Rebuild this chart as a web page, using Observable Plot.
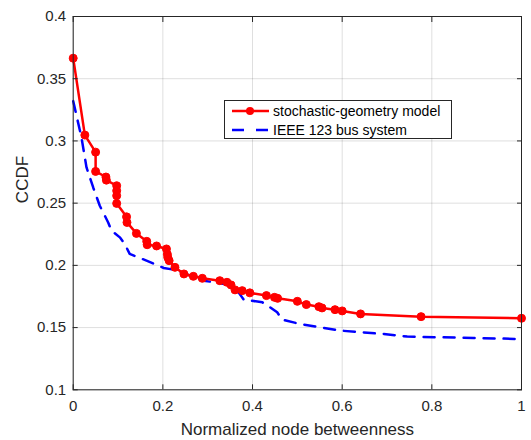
<!DOCTYPE html>
<html><head><meta charset="utf-8">
<script src="https://cdn.jsdelivr.net/npm/d3@7"></script>
<script src="https://cdn.jsdelivr.net/npm/@observablehq/plot@0.6"></script>
<style>
body{margin:0;background:#fff;}
#wrap{position:relative;width:531px;height:440px;font-family:"Liberation Sans",Arial,Helvetica,sans-serif;}
#legend{position:absolute;left:224px;top:100px;}
</style></head><body><div id="wrap"></div>
<script>
// stochastic-geometry model (red, markers)
const sgX = [0, 0.026, 0.050, 0.050, 0.073, 0.074, 0.097, 0.097, 0.097, 0.097, 0.119, 0.120, 0.141, 0.164, 0.165, 0.186, 0.208, 0.210, 0.211, 0.214, 0.227, 0.247, 0.268, 0.288, 0.327, 0.343, 0.352, 0.361, 0.377, 0.394, 0.431, 0.449, 0.456, 0.500, 0.520, 0.548, 0.555, 0.584, 0.600, 0.641, 0.776, 1.0];
const sgY = [0.3665, 0.3047, 0.291, 0.2755, 0.271, 0.2685, 0.264, 0.260, 0.256, 0.2498, 0.239, 0.2345, 0.2257, 0.2193, 0.2166, 0.2156, 0.2132, 0.209, 0.2064, 0.2038, 0.1984, 0.1931, 0.1912, 0.1896, 0.1877, 0.1864, 0.1843, 0.1803, 0.1797, 0.1779, 0.1757, 0.1743, 0.1735, 0.1711, 0.1685, 0.1668, 0.1658, 0.1644, 0.1634, 0.161, 0.1588, 0.1575];
// IEEE 123 bus system (blue, dashed)
const ieeeX = [0, 0.0185, 0.0297, 0.0446, 0.0593, 0.0669, 0.078, 0.0854, 0.104, 0.115, 0.126, 0.1635, 0.202, 0.228, 0.291, 0.329, 0.351, 0.366, 0.381, 0.396, 0.422, 0.436, 0.455, 0.466, 0.507, 0.596, 0.641, 0.693, 0.745, 0.819, 0.893, 0.987, 1.0];
const ieeeY = [0.332, 0.3027, 0.2787, 0.2626, 0.2479, 0.2425, 0.2345, 0.2279, 0.2225, 0.2172, 0.2092, 0.2038, 0.1979, 0.1963, 0.1877, 0.1856, 0.1837, 0.1797, 0.1722, 0.1717, 0.1703, 0.1671, 0.1623, 0.1564, 0.1528, 0.1476, 0.1462, 0.1449, 0.1428, 0.1422, 0.1417, 0.1409, 0.1408];
const xTicks = [0, 0.2, 0.4, 0.6, 0.8, 1];
const yTicks = [0.1, 0.15, 0.2, 0.25, 0.3, 0.35, 0.4];
const seriesNames = ["stochastic-geometry model", "IEEE 123 bus system"];
const xLabel = "Normalized node betweenness";
const yLabel = "CCDF";

const sg = sgX.map((x, i) => ({x, y: sgY[i]}));
const ieee = ieeeX.map((x, i) => ({x, y: ieeeY[i]}));
const fmt = d3.format("~g");
const axisColor = "#262626";
const font = '"Liberation Sans", Arial, Helvetica, sans-serif';

const chart = Plot.plot({
  width: 531, height: 440,
  marginLeft: 72.7, marginRight: 10, marginTop: 16, marginBottom: 50.7,
  style: {fontFamily: font, fontSize: "15px", color: axisColor, background: "white"},
  x: {domain: [0, 1]},
  y: {domain: [0.1, 0.4]},
  marks: [
    Plot.gridX(xTicks, {stroke: "#000", strokeOpacity: 0.13, strokeWidth: 1}),
    Plot.gridY(yTicks, {stroke: "#000", strokeOpacity: 0.13, strokeWidth: 1}),
    Plot.line(ieee, {x: "x", y: "y", stroke: "#0000ff", strokeWidth: 2.5, strokeDasharray: "11 9"}),
    Plot.line(sg, {x: "x", y: "y", stroke: "#ff0000", strokeWidth: 2.5}),
    Plot.dot(sg, {x: "x", y: "y", r: 4, fill: "#ff0000", stroke: "#ff0000", strokeWidth: 1}),
    Plot.frame({stroke: axisColor}),
    Plot.axisX(xTicks, {anchor: "bottom", tickSize: -5, tickPadding: 16, tickFormat: fmt, label: null, fontSize: 15, color: axisColor}),
    Plot.axisX(xTicks, {anchor: "top", tickSize: -5, tickFormat: () => "", label: null, color: axisColor}),
    Plot.axisY(yTicks, {anchor: "left", tickSize: -5, tickPadding: 12, tickFormat: fmt, label: null, fontSize: 15, color: axisColor}),
    Plot.axisY(yTicks, {anchor: "right", tickSize: -5, tickFormat: () => "", label: null, color: axisColor}),
    Plot.text([xLabel], {text: d => d, frameAnchor: "bottom", lineAnchor: "middle", dy: 40, fontSize: 17, fill: axisColor}),
    Plot.text([yLabel], {text: d => d, frameAnchor: "left", lineAnchor: "middle", rotate: -90, dx: -51, fontSize: 17, fill: axisColor})
  ]
});
const wrap = document.getElementById("wrap");
wrap.appendChild(chart);

// legend box
const lg = d3.select(wrap).append("svg").attr("id", "legend")
  .attr("width", 229).attr("height", 40)
  .style("font-family", font);
lg.append("rect").attr("x", 0.5).attr("y", 0.5).attr("width", 227).attr("height", 38)
  .attr("fill", "white").attr("stroke", axisColor);
const rows = [
  {name: seriesNames[0], color: "#ff0000", dash: null, marker: true},
  {name: seriesNames[1], color: "#0000ff", dash: "12 12", marker: false}
];
rows.forEach((r, i) => {
  const y = 11 + i * 19;
  lg.append("line").attr("x1", 8).attr("x2", 45).attr("y1", y).attr("y2", y)
    .attr("stroke", r.color).attr("stroke-width", 2.5).attr("stroke-dasharray", r.dash);
  if (r.marker) lg.append("circle").attr("cx", 26).attr("cy", y).attr("r", 4).attr("fill", r.color);
  lg.append("text").attr("x", 49).attr("y", y).attr("dy", "0.35em").attr("font-size", 14).attr("fill", "#000").text(r.name);
});
</script></body></html>
